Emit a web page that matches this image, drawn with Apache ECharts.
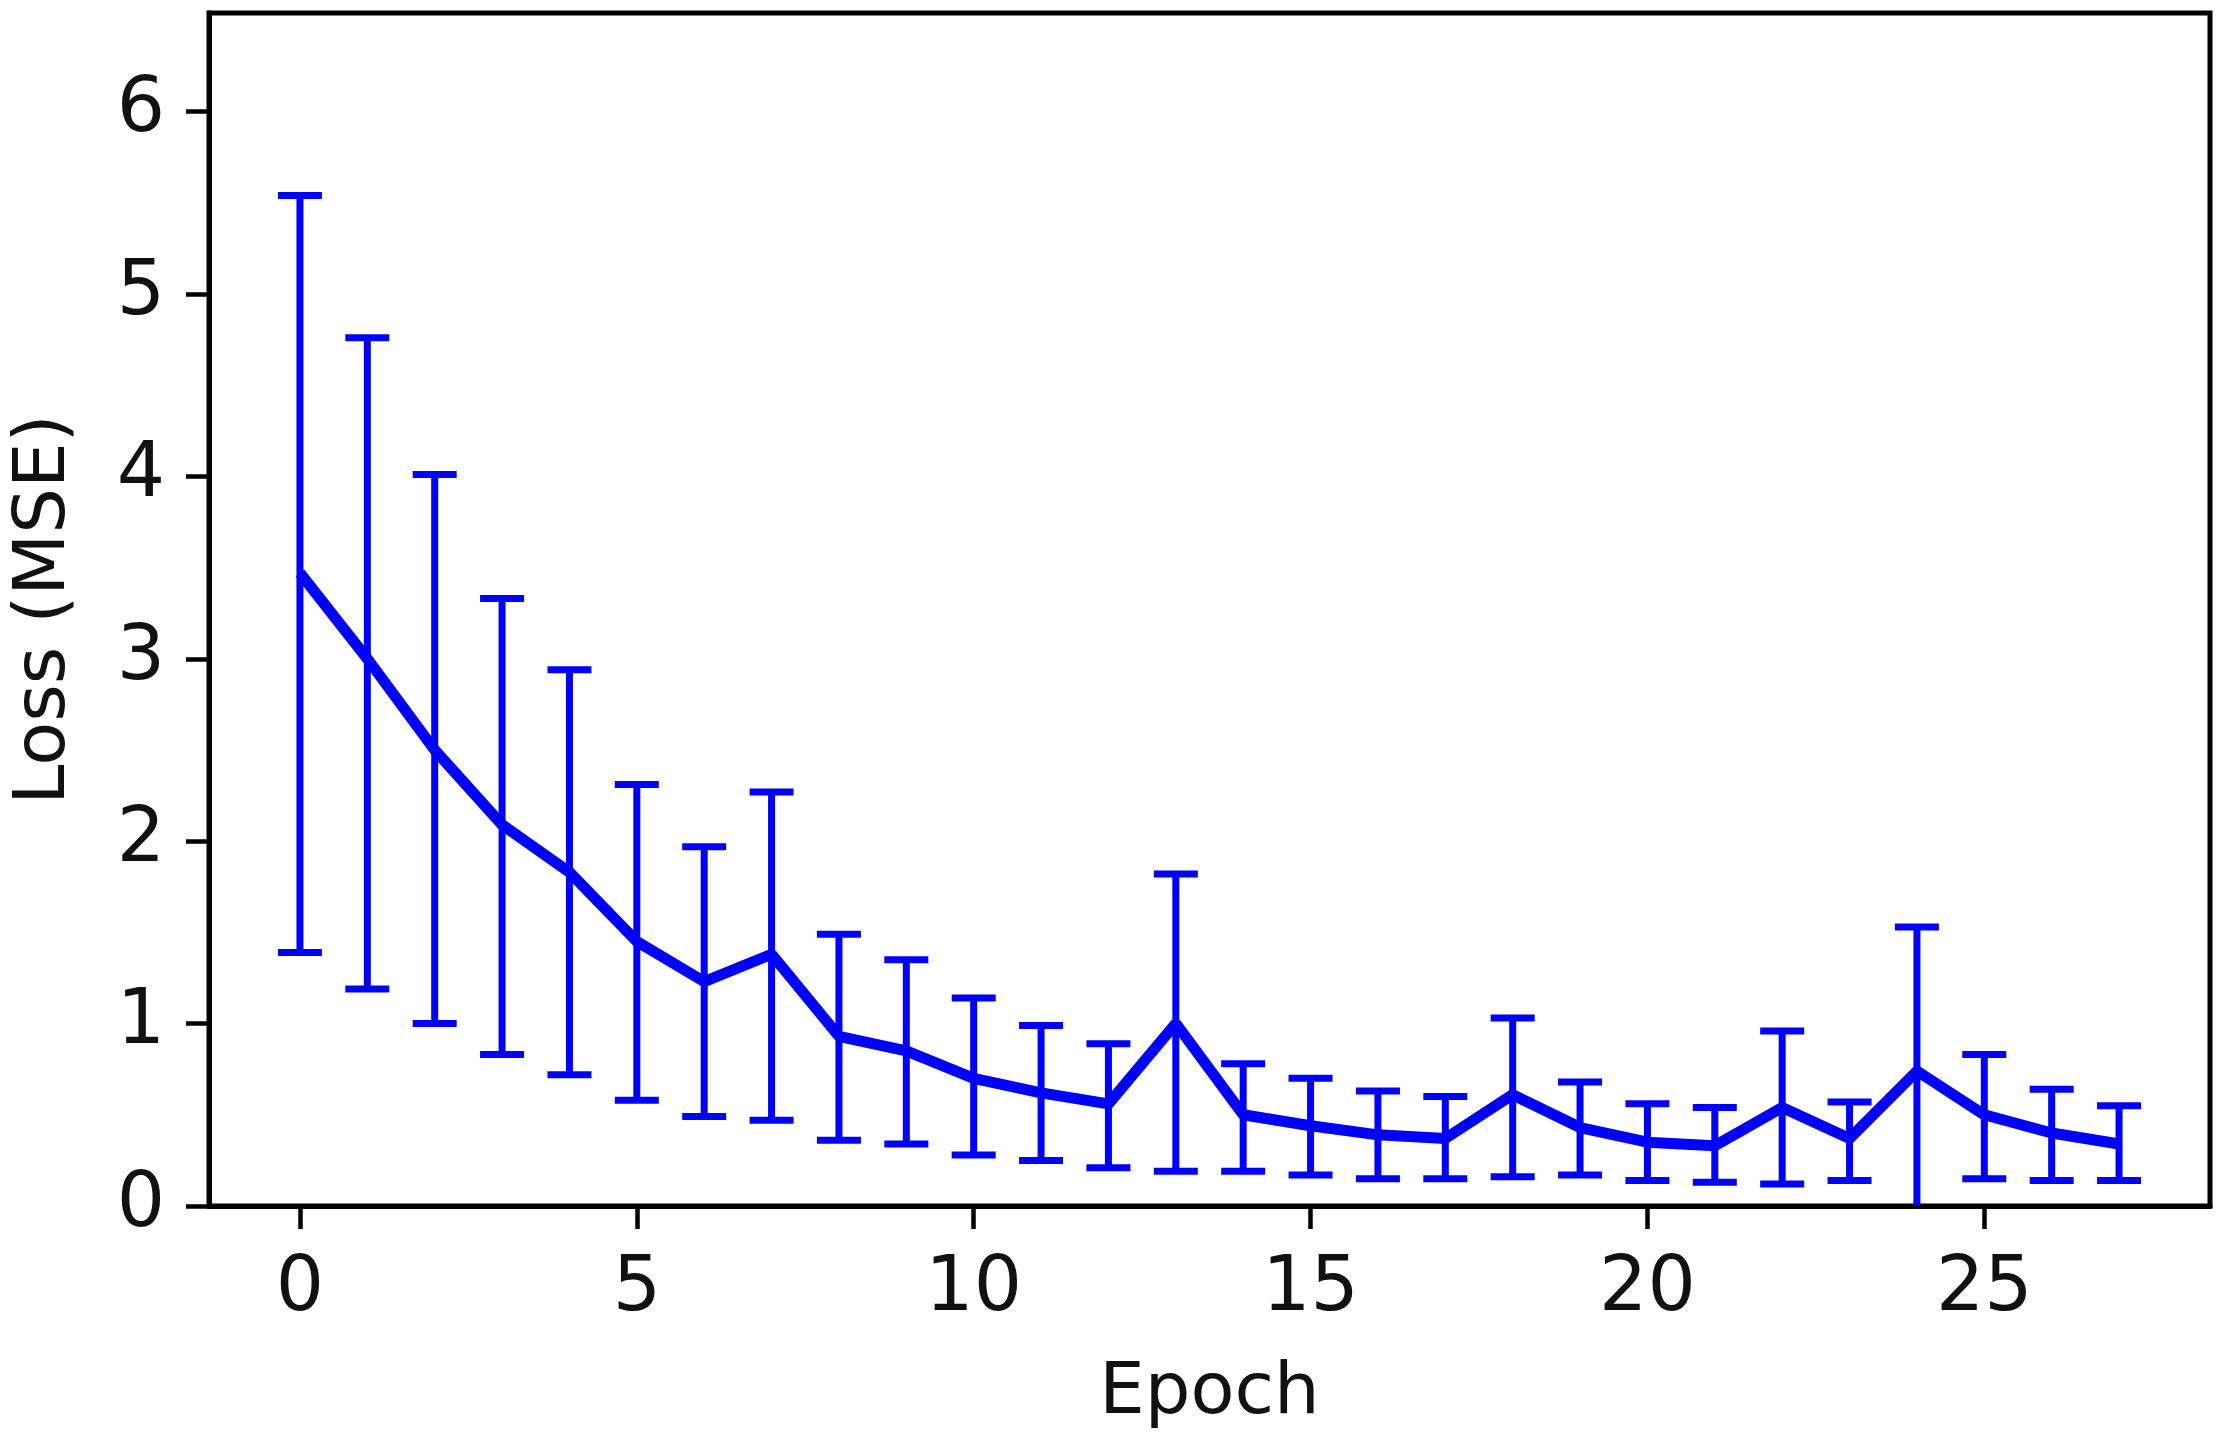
<!DOCTYPE html>
<html>
<head>
<meta charset="utf-8">
<script src="https://cdn.jsdelivr.net/npm/echarts@6/dist/echarts.min.js"></script>
<style>
  html, body { margin: 0; padding: 0; background: #fff; }
  #chart { width: 2226px; height: 1440px; }
</style>
</head>
<body>
<div id="chart"></div>
<script>
const epochs = [0, 1, 2, 3, 4, 5, 6, 7, 8, 9, 10, 11, 12, 13, 14, 15, 16, 17, 18, 19, 20, 21, 22, 23, 24, 25, 26, 27]
const lossMean = [3.47, 3.00, 2.50, 2.09, 1.83, 1.45, 1.23, 1.38, 0.93, 0.85, 0.70, 0.62, 0.56, 1.00, 0.50, 0.44, 0.39, 0.37, 0.61, 0.43, 0.35, 0.33, 0.54, 0.37, 0.74, 0.50, 0.40, 0.34]
const lossLow = [1.39, 1.19, 1.00, 0.83, 0.72, 0.58, 0.49, 0.47, 0.36, 0.34, 0.28, 0.25, 0.21, 0.19, 0.19, 0.17, 0.15, 0.15, 0.16, 0.17, 0.14, 0.13, 0.12, 0.14, -0.05, 0.15, 0.14, 0.14]
const lossHigh = [5.54, 4.76, 4.01, 3.33, 2.94, 2.31, 1.97, 2.27, 1.49, 1.35, 1.14, 0.99, 0.89, 1.82, 0.78, 0.70, 0.63, 0.60, 1.03, 0.68, 0.56, 0.54, 0.96, 0.57, 1.53, 0.83, 0.64, 0.55]
const xTicks = [0, 5, 10, 15, 20, 25]
const yTicks = [0, 1, 2, 3, 4, 5, 6]

const blue = '#0000ff'
const font = 'DejaVu Sans'

const meanData = epochs.map((e, i) => [e, lossMean[i]])
const barData = epochs.map((e, i) => [e, lossLow[i], lossHigh[i]])

function renderErrorBar (params, api) {
  const cs = params.coordSys
  const bottom = cs.y + cs.height
  const top = api.coord([api.value(0), api.value(2)])
  const low = api.coord([api.value(0), api.value(1)])
  const half = 22
  const style = { stroke: blue, lineWidth: 7, fill: null }
  const children = [{
    type: 'line',
    shape: { x1: top[0], y1: top[1], x2: low[0], y2: Math.min(low[1], bottom) },
    style: style
  }, {
    type: 'line',
    shape: { x1: top[0] - half, y1: top[1], x2: top[0] + half, y2: top[1] },
    style: style
  }]
  // cap is hidden when the bar runs below the axis
  if (low[1] < bottom) {
    children.push({
      type: 'line',
      shape: { x1: low[0] - half, y1: low[1], x2: low[0] + half, y2: low[1] },
      style: style
    })
  }
  return { type: 'group', children: children }
}

const myChart = echarts.init(document.getElementById('chart'))
const option = {
  backgroundColor: '#fff',
  animation: false,
  grid: {
    left: 209,
    top: 13,
    right: 16,
    bottom: 234,
    show: true,
    borderColor: '#000',
    borderWidth: 5,
    containLabel: false
  },
  xAxis: {
    type: 'value',
    min: -1.35,
    max: 28.35,
    name: 'Epoch',
    nameLocation: 'middle',
    nameGap: 152,
    nameTextStyle: { fontFamily: font, fontSize: 72, color: '#111' },
    splitLine: { show: false },
    axisLine: { show: true, onZero: false, lineStyle: { color: '#000', width: 5 } },
    axisTick: { show: true, length: 23, customValues: xTicks, lineStyle: { color: '#000', width: 4.5 } },
    axisLabel: { customValues: xTicks, fontFamily: font, fontSize: 76, color: '#111', margin: 46 }
  },
  yAxis: {
    type: 'value',
    min: 0,
    max: 6.54,
    name: 'Loss (MSE)',
    nameLocation: 'middle',
    nameRotate: 90,
    nameGap: 128,
    nameTextStyle: { fontFamily: font, fontSize: 72, color: '#111' },
    splitLine: { show: false },
    axisLine: { show: true, onZero: false, lineStyle: { color: '#000', width: 5 } },
    axisTick: { show: true, length: 23, customValues: yTicks, lineStyle: { color: '#000', width: 4.5 } },
    axisLabel: { customValues: yTicks, fontFamily: font, fontSize: 76, color: '#111', margin: 44 }
  },
  series: [
    {
      type: 'custom',
      renderItem: renderErrorBar,
      data: barData,
      encode: { x: 0, y: [1, 2] },
      z: 2
    },
    {
      type: 'line',
      data: meanData,
      showSymbol: false,
      symbol: 'none',
      lineStyle: { color: blue, width: 11 },
      z: 3
    }
  ]
}
myChart.setOption(option)
</script>
</body>
</html>
